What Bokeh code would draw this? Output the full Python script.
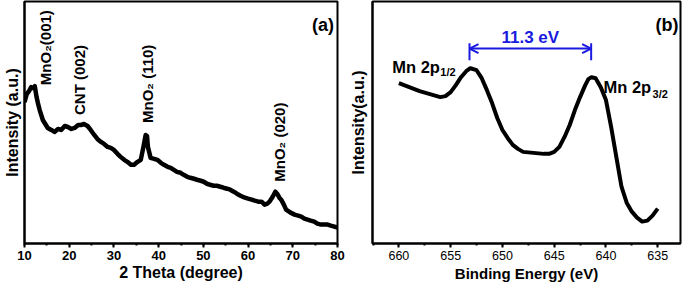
import numpy as np
from bokeh.plotting import figure
from bokeh.layouts import row
from bokeh.models import Range1d, SingleIntervalTicker, FixedTicker, Arrow, OpenHead
from bokeh.core.properties import value
from bokeh.embed import file_html
from bokeh.resources import INLINE

# ---------------- data: panel (a) XRD ----------------
two_theta = [10.0, 10.5, 11.0, 11.5, 11.9, 12.3, 12.7, 13.0, 13.4, 14.1, 15.2, 16.0, 16.7,
             17.5, 18.2, 19.0, 19.7, 20.5, 21.2, 22.0, 22.6, 23.3, 24.1, 24.8, 25.6, 26.3,
             27.1, 27.8, 28.6, 29.3, 30.0, 30.8, 31.5, 32.3, 33.0, 33.8, 34.5, 35.3, 36.0,
             36.6, 37.1, 37.4, 37.6, 38.2, 39.0, 39.7, 40.5, 41.2, 42.0, 42.7, 43.4, 44.1,
             44.9, 45.6, 46.4, 47.1, 47.9, 48.6, 49.4, 50.1, 50.8, 51.5, 52.3, 53.0, 53.8,
             54.5, 55.3, 56.0, 56.8, 57.5, 58.3, 59.3, 60.0, 60.8, 61.5, 62.3, 63.0, 63.7,
             64.3, 64.8, 65.5, 66.1, 66.5, 67.0, 67.4, 68.0, 68.5, 69.5, 70.4, 71.2, 71.9,
             72.6, 73.3, 74.0, 74.8, 75.5, 76.3, 77.0, 77.8, 78.5, 79.3, 80.0]
xrd_intensity = [141, 149, 152, 156, 155, 157, 146, 140, 133, 123, 115, 113, 111,
                 114, 113, 117, 116, 114, 115, 118, 118, 119, 117, 113, 108, 104,
                 101, 99, 96, 95, 93, 89, 86, 83, 81, 78, 78, 81, 83,
                 96, 108, 107, 96, 85, 84, 83, 80, 78, 76, 75, 73, 71,
                 70, 68, 66, 65, 64, 63, 62, 61, 59, 58, 57, 57, 56,
                 55, 54, 53, 51, 49, 47, 45, 44, 43, 42, 41, 41, 38,
                 39, 41, 46, 51, 49, 45, 43, 38, 33, 30, 28, 27, 26,
                 24, 23, 22, 21, 19, 18, 18, 18, 17, 16, 15]
xrd_x_title = "2 Theta (degree)"
xrd_peak_labels = ["MnO\u2082(001)", "CNT (002)", "MnO\u2082 (110)", "MnO\u2082 (020)"]

# ---------------- data: panel (b) XPS ----------------
binding_energy = [660, 659, 658, 657, 656, 655.5, 655, 654.5, 654, 653.5, 653.1, 652.5, 652,
                  651.5, 651, 650.5, 650, 649.5, 649, 648.5, 648, 647, 646, 645.5, 645,
                  644.5, 644, 643.5, 643, 642.5, 642, 641.7, 641.4, 641, 640.5, 640, 639.5,
                  639, 638.5, 638, 637.5, 637, 636.5, 636, 635.5, 635]
xps_intensity = [160, 156, 152, 149, 146, 147, 151, 158, 166, 172, 175, 173, 165,
                 153, 140, 125, 113, 105, 98, 94, 91, 90, 89, 89, 91,
                 96, 106, 118, 133, 146, 158, 164, 166, 165, 156, 143, 116,
                 86, 56, 40, 31, 25, 21, 22, 27, 34]
split_start = 653.18
split_end = 641.43
split_text = "11.3 eV"

FONT = "Liberation Sans"


def style_xaxis(ax, label_size, label_style, title_size):
    ax.axis_line_width = 2
    ax.axis_line_color = "black"
    ax.major_tick_line_width = 2
    ax.minor_tick_line_width = 2
    ax.major_tick_line_color = "black"
    ax.minor_tick_line_color = "black"
    ax.major_tick_in = 0
    ax.major_tick_out = 4
    ax.minor_tick_in = 0
    ax.minor_tick_out = 2
    ax.major_label_standoff = 3
    ax.major_label_text_font = FONT
    ax.major_label_text_font_style = label_style
    ax.major_label_text_font_size = label_size
    ax.major_label_text_color = "black"
    ax.axis_label_text_font = FONT
    ax.axis_label_text_font_style = "bold"
    ax.axis_label_text_font_size = title_size
    ax.axis_label_text_color = "black"


def style_yaxis(ax, label, standoff):
    ax.ticker = FixedTicker(ticks=[])
    ax.axis_label = label
    ax.axis_line_width = 2
    ax.axis_line_color = "black"
    ax.major_tick_out = 0
    ax.minor_tick_out = 0
    ax.major_label_text_font_size = "0px"
    ax.major_label_standoff = 0
    ax.axis_label_text_font = FONT
    ax.axis_label_text_font_style = "bold"
    ax.axis_label_text_font_size = "16px"
    ax.axis_label_text_color = "black"
    ax.axis_label_standoff = standoff


# ---------------- panel (a) ----------------
p1 = figure(width=345, height=284, output_backend="svg", toolbar_location=None,
            x_range=Range1d(10, 80), y_range=Range1d(-1, 242),
            min_border_left=21, min_border_right=8, min_border_top=1, min_border_bottom=40)
p1.grid.visible = False
p1.outline_line_color = "black"
p1.outline_line_width = 2
p1.line(two_theta, xrd_intensity, line_color="black", line_width=4.5, line_join="round")

xa = p1.xaxis[0]
xa.ticker = SingleIntervalTicker(interval=10, num_minor_ticks=2)
xa.axis_label = xrd_x_title
style_xaxis(xa, "13px", "bold", "16px")
xa.axis_label_standoff = 1
style_yaxis(p1.yaxis[0], "Intensity (a.u.)", 4)

lab_x = [14.7, 22.2, 37.5, 67.0]
lab_y = [158, 128, 120, 61]
p1.text(x=lab_x, y=lab_y, text=xrd_peak_labels, angle=np.pi / 2,
        text_align="left", text_baseline="middle",
        text_font=value(FONT), text_font_style="bold", text_font_size="15px",
        text_color="black")
p1.text(x=[79.2], y=[218], text=["(a)"], text_align="right", text_baseline="alphabetic",
        text_font=value(FONT), text_font_style="bold", text_font_size="18px", text_color="black")

# ---------------- panel (b) ----------------
p2 = figure(width=340, height=284, output_backend="svg", toolbar_location=None,
            x_range=Range1d(662.55, 632.8), y_range=Range1d(-1, 242),
            min_border_left=27, min_border_right=5, min_border_top=1, min_border_bottom=40)
p2.grid.visible = False
p2.outline_line_color = "black"
p2.outline_line_width = 2
p2.line(binding_energy, xps_intensity, line_color="black", line_width=4, line_join="round")

xb = p2.xaxis[0]
xb.ticker = SingleIntervalTicker(interval=5, num_minor_ticks=2)
xb.axis_label = "Binding Energy (eV)"
style_xaxis(xb, "12.5px", "normal", "15px")
xb.axis_label_standoff = 2
style_yaxis(p2.yaxis[0], "Intensity(a.u.)", 6)

BLUE = "#1a1ae0"
arrow_y = 194.7
p2.add_layout(Arrow(x_start=split_start, y_start=arrow_y, x_end=split_end, y_end=arrow_y,
                    line_color=BLUE, line_width=2,
                    start=OpenHead(size=9, line_color=BLUE, line_width=2),
                    end=OpenHead(size=9, line_color=BLUE, line_width=2)))
p2.segment(x0=[split_start, split_end], y0=[183, 183], x1=[split_start, split_end], y1=[200, 200],
           line_color=BLUE, line_width=2)
p2.text(x=[(split_start + split_end) / 2], y=[205.5], text=[split_text],
        text_align="center", text_baseline="middle",
        text_font=value(FONT), text_font_style="bold", text_font_size="17px", text_color=BLUE)

p2.text(x=[660.64, 640.24], y=[176.3, 155.7], text=["Mn 2p", "Mn 2p"],
        text_align="left", text_baseline="alphabetic",
        text_font=value(FONT), text_font_style="bold", text_font_size="16.5px", text_color="black")
p2.text(x=[656.0, 635.5], y=[171, 149.5], text=["1/2", "3/2"],
        text_align="left", text_baseline="alphabetic",
        text_font=value(FONT), text_font_style="bold", text_font_size="11px", text_color="black")
p2.text(x=[633.0], y=[218], text=["(b)"], text_align="right", text_baseline="alphabetic",
        text_font=value(FONT), text_font_style="bold", text_font_size="18px", text_color="black")

layout = row(p1, p2)
open("out.html", "w").write(file_html(layout, INLINE))
